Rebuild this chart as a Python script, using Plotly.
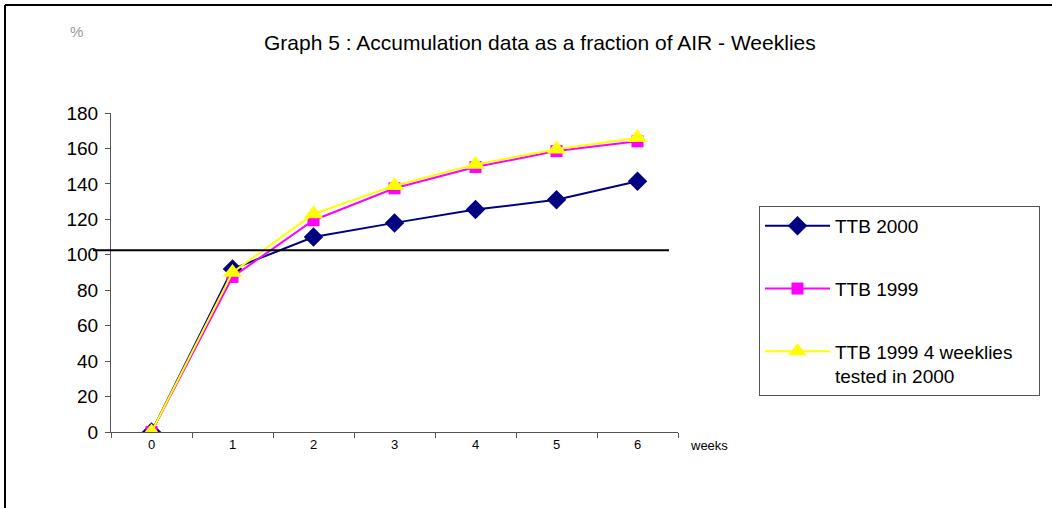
import plotly.graph_objects as go

weeks = ["0", "1", "2", "3", "4", "5", "6"]
ttb_2000 = [0, 92, 110, 118, 125.5, 131, 141.5]
ttb_1999 = [0, 87.5, 119.5, 137.5, 149.5, 158.5, 164]
ttb_1999_4w = [0, 90, 123, 139, 151, 159.5, 166]
ref_level = 102.5

W, H = 1052, 508
L, R, T, B = 111, 678, 113, 432

def px(x):
    return (x - L) / (R - L)

def py(y):
    return (B - y) / (B - T)

fig = go.Figure()
fig.add_trace(go.Scatter(x=weeks, y=ttb_2000, name="TTB 2000", mode="lines+markers",
                         line=dict(color="#000080", width=2),
                         marker=dict(symbol="diamond", size=15, color="#000080"),
                         legendgroup="a"))
fig.add_trace(go.Scatter(x=weeks, y=ttb_1999, name="TTB 1999", mode="lines+markers",
                         line=dict(color="#FF00FF", width=2),
                         marker=dict(symbol="square", size=12, color="#FF00FF"),
                         legendgroup="b"))
fig.add_trace(go.Scatter(x=weeks, y=ttb_1999_4w,
                         name="TTB 1999 4 weeklies\u00a0\u00a0\u00a0\u00a0<br>tested in 2000",
                         mode="lines+markers",
                         line=dict(color="#FFFF00", width=2),
                         marker=dict(symbol="triangle-up", size=17, color="#FFFF00"),
                         legendgroup="c"))

shapes = [
    dict(type="line", xref="paper", yref="y", x0=px(93), x1=px(669), y0=ref_level, y1=ref_level,
         line=dict(color="black", width=2)),
    dict(type="line", xref="paper", yref="paper", x0=px(5), x1=px(1060), y0=py(5), y1=py(5),
         line=dict(color="black", width=2)),
    dict(type="line", xref="paper", yref="paper", x0=px(5), x1=px(5), y0=py(5), y1=py(520),
         line=dict(color="black", width=2)),
]

annotations = [
    dict(text="Graph 5 : Accumulation data as a fraction of AIR - Weeklies", xref="paper", yref="paper",
         x=px(540), y=py(42), xanchor="center", yanchor="middle", showarrow=False,
         font=dict(size=21, color="black")),
    dict(text="%", xref="paper", yref="paper", x=px(76), y=py(32), xanchor="center", yanchor="middle",
         showarrow=False, font=dict(size=15, color="#999999")),
    dict(text="weeks", xref="paper", yref="paper", x=px(688), y=py(445), xanchor="left", yanchor="middle",
         showarrow=False, font=dict(size=13, color="black")),
]

fig.update_layout(
    width=W, height=H,
    margin=dict(l=L, r=W - R, t=T, b=H - B),
    paper_bgcolor="white", plot_bgcolor="white",
    font=dict(family="Liberation Sans, Arial, sans-serif", color="black"),
    showlegend=True,
    legend=dict(x=px(759), y=py(206), xanchor="left", yanchor="top",
                bordercolor="#555555", borderwidth=1, bgcolor="white",
                font=dict(size=19), tracegroupgap=35, valign="top",
                itemwidth=65),
    xaxis=dict(type="category", range=[-0.5, 6.5], tickson="boundaries", ticks="outside",
               ticklen=5, tickcolor="#555555", showline=True, linecolor="#555555", linewidth=1,
               showgrid=False, zeroline=False, tickfont=dict(size=13)),
    yaxis=dict(range=[0, 180], dtick=20, ticks="outside", ticklen=5, tickcolor="#555555",
               showline=True, linecolor="#555555", linewidth=1, showgrid=False, zeroline=False,
               tickfont=dict(size=19), ticklabelstandoff=3),
    shapes=shapes,
    annotations=annotations,
)

fig.write_html("out.html")
